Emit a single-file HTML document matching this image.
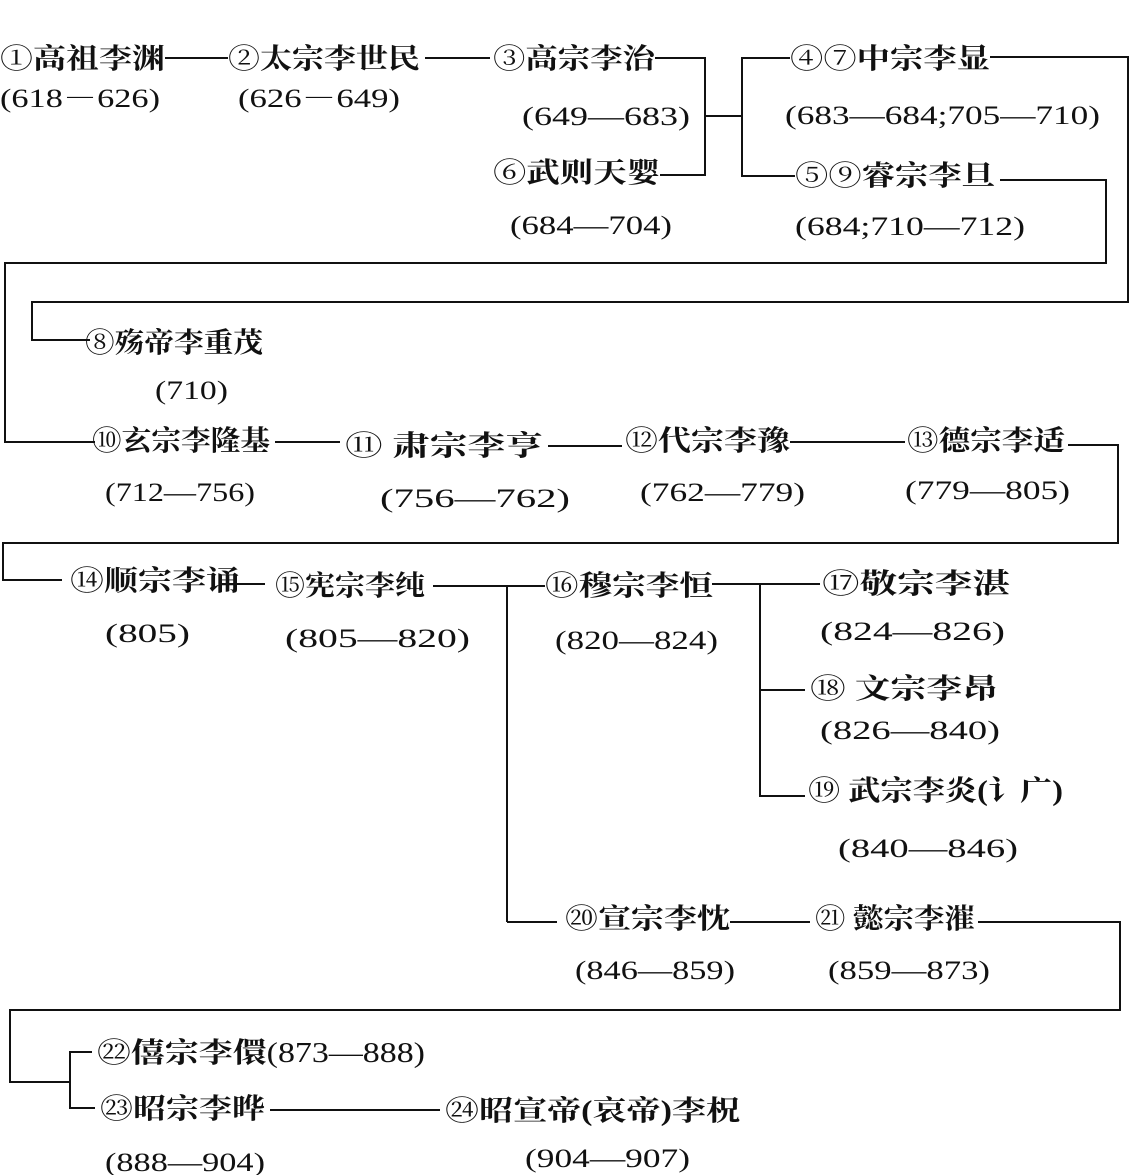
<!DOCTYPE html>
<html><head><meta charset="utf-8"><style>
html,body{margin:0;padding:0;background:#fff;}
svg{display:block;}
text{font-family:"Liberation Serif","Noto Serif CJK SC",serif;font-size:28px;fill:#111;font-weight:700;}
text.d{font-weight:400;font-size:26px;}
tspan.c{font-family:"Noto Serif CJK SC","Noto Sans CJK SC",serif;font-weight:400;}
line,polyline{stroke:#111;stroke-width:2;fill:none;}
</style></head><body>
<svg width="1132" height="1175" viewBox="0 0 1132 1175" xmlns="http://www.w3.org/2000/svg">
<text x="0" y="68" textLength="165" lengthAdjust="spacingAndGlyphs"><tspan class="c">①</tspan>高祖李渊</text>
<line x1="165" y1="58" x2="228" y2="58"/>
<text x="228" y="68" textLength="192" lengthAdjust="spacingAndGlyphs"><tspan class="c">②</tspan>太宗李世民</text>
<line x1="425" y1="58" x2="490" y2="58"/>
<text x="493" y="68" textLength="162" lengthAdjust="spacingAndGlyphs"><tspan class="c">③</tspan>高宗李治</text>
<text class="d" x="0" y="107" textLength="160" lengthAdjust="spacingAndGlyphs">(618－626)</text>
<text class="d" x="238" y="107" textLength="162" lengthAdjust="spacingAndGlyphs">(626－649)</text>
<text class="d" x="522" y="125" textLength="168" lengthAdjust="spacingAndGlyphs">(649—683)</text>
<text x="493" y="182" textLength="167" lengthAdjust="spacingAndGlyphs"><tspan class="c">⑥</tspan>武则天婴</text>
<text class="d" x="510" y="234" textLength="162" lengthAdjust="spacingAndGlyphs">(684—704)</text>
<polyline points="655,58 705,58 705,175 660,175"/>
<line x1="705" y1="116" x2="742" y2="116"/>
<polyline points="790,58 742,58 742,176 795,176"/>
<text x="790" y="68" textLength="200" lengthAdjust="spacingAndGlyphs"><tspan class="c">④⑦</tspan>中宗李显</text>
<text class="d" x="785" y="124" textLength="315" lengthAdjust="spacingAndGlyphs">(683—684;705—710)</text>
<text x="795" y="185" textLength="200" lengthAdjust="spacingAndGlyphs"><tspan class="c">⑤⑨</tspan>睿宗李旦</text>
<text class="d" x="795" y="235" textLength="230" lengthAdjust="spacingAndGlyphs">(684;710—712)</text>
<polyline points="990,57 1128,57 1128,302 32,302 32,340 90,340"/>
<polyline points="1000,180 1106,180 1106,263 5,263 5,442 95,442"/>
<text x="85" y="352" textLength="178" lengthAdjust="spacingAndGlyphs"><tspan class="c">⑧</tspan>殇帝李重茂</text>
<text class="d" x="155" y="399" textLength="73" lengthAdjust="spacingAndGlyphs">(710)</text>
<text x="92" y="450" textLength="178" lengthAdjust="spacingAndGlyphs"><tspan class="c">⑩</tspan>玄宗李隆基</text>
<line x1="275" y1="442" x2="340" y2="442"/>
<text x="345" y="455" textLength="198" lengthAdjust="spacingAndGlyphs"><tspan class="c">⑪</tspan> 肃宗李亨</text>
<line x1="548" y1="446" x2="622" y2="446"/>
<text x="625" y="450" textLength="165" lengthAdjust="spacingAndGlyphs"><tspan class="c">⑫</tspan>代宗李豫</text>
<line x1="790" y1="442" x2="905" y2="442"/>
<text x="907" y="450" textLength="158" lengthAdjust="spacingAndGlyphs"><tspan class="c">⑬</tspan>德宗李适</text>
<polyline points="1068,445 1118,445 1118,543 3,543 3,580 62,580"/>
<text class="d" x="105" y="501" textLength="150" lengthAdjust="spacingAndGlyphs">(712—756)</text>
<text class="d" x="380" y="507" textLength="190" lengthAdjust="spacingAndGlyphs">(756—762)</text>
<text class="d" x="640" y="501" textLength="165" lengthAdjust="spacingAndGlyphs">(762—779)</text>
<text class="d" x="905" y="499" textLength="165" lengthAdjust="spacingAndGlyphs">(779—805)</text>
<text x="70" y="590" textLength="170" lengthAdjust="spacingAndGlyphs"><tspan class="c">⑭</tspan>顺宗李诵</text>
<line x1="220" y1="584" x2="265" y2="584"/>
<text x="275" y="595" textLength="150" lengthAdjust="spacingAndGlyphs"><tspan class="c">⑮</tspan>宪宗李纯</text>
<line x1="433" y1="586" x2="545" y2="586"/>
<line x1="507" y1="586" x2="507" y2="922"/>
<line x1="507" y1="922" x2="557" y2="922"/>
<text x="545" y="595" textLength="168" lengthAdjust="spacingAndGlyphs"><tspan class="c">⑯</tspan>穆宗李恒</text>
<line x1="712" y1="584" x2="820" y2="584"/>
<polyline points="760,584 760,796 805,796"/>
<line x1="760" y1="690" x2="805" y2="690"/>
<text class="d" x="105" y="642" textLength="85" lengthAdjust="spacingAndGlyphs">(805)</text>
<text class="d" x="285" y="647" textLength="185" lengthAdjust="spacingAndGlyphs">(805—820)</text>
<text class="d" x="555" y="649" textLength="163" lengthAdjust="spacingAndGlyphs">(820—824)</text>
<text x="822" y="593" textLength="188" lengthAdjust="spacingAndGlyphs"><tspan class="c">⑰</tspan>敬宗李湛</text>
<text class="d" x="820" y="640" textLength="185" lengthAdjust="spacingAndGlyphs">(824—826)</text>
<text x="810" y="698" textLength="188" lengthAdjust="spacingAndGlyphs"><tspan class="c">⑱</tspan> 文宗李昂</text>
<text class="d" x="820" y="739" textLength="180" lengthAdjust="spacingAndGlyphs">(826—840)</text>
<text x="808" y="800" textLength="255" lengthAdjust="spacingAndGlyphs"><tspan class="c">⑲</tspan> 武宗李炎(讠广)</text>
<text class="d" x="838" y="857" textLength="180" lengthAdjust="spacingAndGlyphs">(840—846)</text>
<text x="565" y="928" textLength="165" lengthAdjust="spacingAndGlyphs"><tspan class="c">⑳</tspan>宣宗李忱</text>
<line x1="730" y1="922" x2="810" y2="922"/>
<text x="815" y="928" textLength="160" lengthAdjust="spacingAndGlyphs"><tspan class="c">㉑</tspan> 懿宗李漼</text>
<polyline points="978,922 1120,922 1120,1010 10,1010 10,1082 70,1082"/>
<text class="d" x="575" y="979" textLength="160" lengthAdjust="spacingAndGlyphs">(846—859)</text>
<text class="d" x="828" y="979" textLength="162" lengthAdjust="spacingAndGlyphs">(859—873)</text>
<polyline points="92,1052 70,1052 70,1108 95,1108"/>
<text x="97" y="1062" textLength="328" lengthAdjust="spacingAndGlyphs"><tspan class="c">㉒</tspan>僖宗李儇<tspan font-weight="400">(873—888)</tspan></text>
<text x="100" y="1118" textLength="165" lengthAdjust="spacingAndGlyphs"><tspan class="c">㉓</tspan>昭宗李晔</text>
<line x1="270" y1="1110" x2="440" y2="1110"/>
<text x="445" y="1120" textLength="295" lengthAdjust="spacingAndGlyphs"><tspan class="c">㉔</tspan>昭宣帝(哀帝)李柷</text>
<text class="d" x="105" y="1171" textLength="160" lengthAdjust="spacingAndGlyphs">(888—904)</text>
<text class="d" x="525" y="1167" textLength="165" lengthAdjust="spacingAndGlyphs">(904—907)</text>
</svg>
</body></html>
